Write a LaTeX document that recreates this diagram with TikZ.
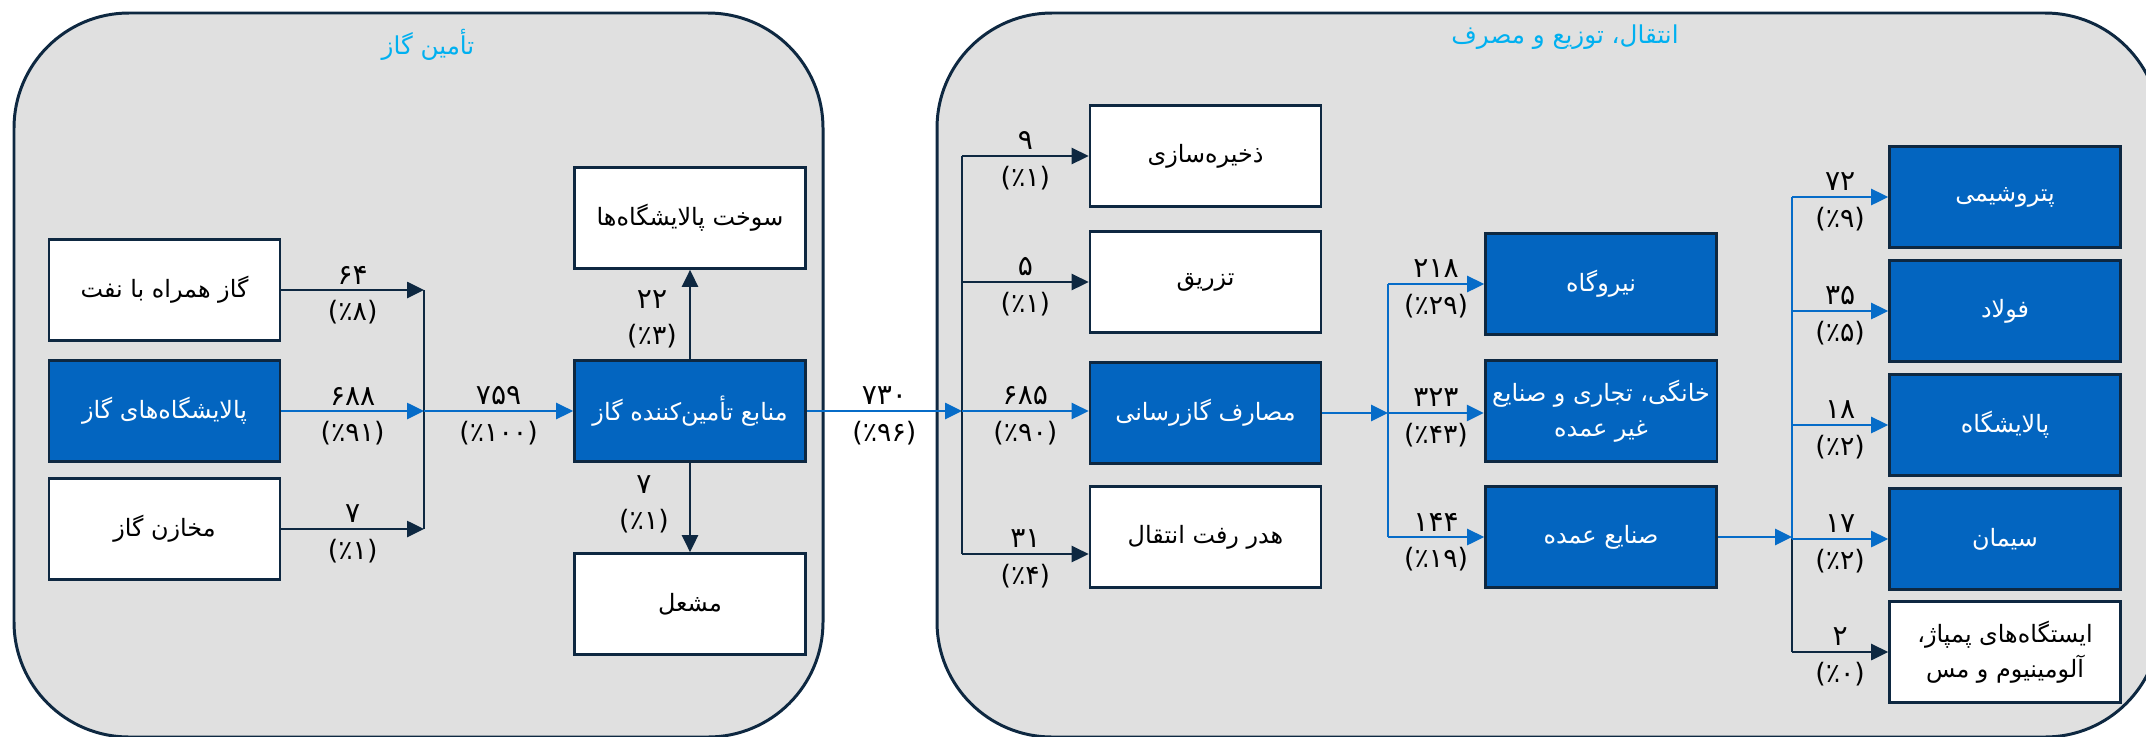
\documentclass[tikz,border=0pt]{standalone}
\usepackage{fontspec}
\newfontfamily\fafont[Script=Arabic]{DejaVu Sans}
\TeXXeTstate=1
\usepackage{tikz}
\usetikzlibrary{arrows.meta}

\definecolor{navy}{RGB}{14,40,65}
\definecolor{panelgray}{RGB}{224,224,224}
\definecolor{boxblue}{RGB}{3,101,192}
\definecolor{lineblue}{RGB}{6,108,200}
\definecolor{headcyan}{RGB}{0,176,240}

\newcommand{\rtext}[1]{\beginR#1\endR}

\begin{document}
\begin{tikzpicture}[
  font=\fafont\fontsize{6.8}{10}\selectfont,
  panel/.style    ={draw=navy, fill=panelgray, line width=0.85pt, rounded corners=11.5mm},
  heading/.style  ={text=headcyan, inner sep=0pt, font=\fafont\fontsize{7}{10}\selectfont},
  cell/.style     ={draw=navy, line width=0.75pt, align=center, inner sep=2pt,
                    minimum width=23.1mm, minimum height=10.1mm},
  whitecell/.style={cell, fill=white, text=black},
  bluecell/.style ={cell, fill=boxblue, text=white},
  amt/.style      ={midway, yshift=1.5mm, inner sep=0pt, font=\fafont\fontsize{8}{10}\selectfont},
  pct/.style      ={midway, yshift=-2.2mm, inner sep=0pt, font=\fafont\fontsize{7.6}{10}\selectfont},
  ar/.style       ={-{Triangle[length=1.7mm, width=1.6mm]}, line width=0.75pt, draw=navy},
  arb/.style      ={ar, draw=lineblue},
  rail/.style     ={line width=0.5pt, draw=navy},
  railb/.style    ={line width=0.5pt, draw=lineblue},
]
\useasboundingbox (0,0) rectangle (21.46,-7.36);
\clip (0,0) rectangle (21.46,-7.36);

% ---------------- the two grey bands ---------------------------------------
\draw[panel] (0.14,-0.13) rectangle (8.23,-7.37);
\draw[panel] (9.37,-0.13) rectangle (21.60,-7.37);

% ---------------- supply side ----------------------------------------------
\node[heading] (supplyhd) at (4.28,-0.45) {\rtext{تأمین گاز}};

\node[whitecell] (assoc)  at (1.645,-2.90) {\rtext{گاز همراه با نفت}};
\node[bluecell]  (refin)  at (1.645,-4.11) {\rtext{پالایشگاه‌های گاز}};
\node[whitecell] (reserv) at (1.645,-5.29) {\rtext{مخازن گاز}};
\node[bluecell]  (source) at (6.90,-4.11)  {\rtext{منابع تأمین‌کننده گاز}};
\node[whitecell] (fuel)   at (6.90,-2.18)  {\rtext{سوخت پالایشگاه‌ها}};
\node[whitecell] (flare)  at (6.90,-6.04)  {\rtext{مشعل}};

\coordinate (ja) at (4.24,-2.90);
\coordinate (jb) at (4.24,-4.11);
\coordinate (jc) at (4.24,-5.29);

\draw[rail] (ja) -- (jc);
\draw[ar]  (assoc)  -- node[amt]{۶۴}  node[pct]{(٪۸)}  (ja);
\draw[arb] (refin)  -- node[amt]{۶۸۸} node[pct]{(٪۹۱)} (jb);
\draw[ar]  (reserv) -- node[amt]{۷}   node[pct]{(٪۱)}  (jc);
\draw[arb] (jb) -- node[amt]{۷۵۹} node[pct]{(٪۱۰۰)} (source);
\draw[ar]  (source) -- node[amt, xshift=-3.8mm]{۲۲} node[pct, xshift=-3.8mm]{(٪۳)} (fuel);
\draw[ar]  (source) -- node[amt, xshift=-4.6mm, yshift=0.8mm]{۷}
                       node[pct, xshift=-4.6mm, yshift=0.8mm]{(٪۱)} (flare);

% ---------------- transmission, distribution and use ----------------------
\node[heading] (usehd) at (15.65,-0.37) {\rtext{انتقال، توزیع و مصرف}};

\node[whitecell] (store)  at (12.055,-1.56) {\rtext{ذخیره‌سازی}};
\node[whitecell] (inject) at (12.055,-2.82) {\rtext{تزریق}};
\node[bluecell]  (grid)   at (12.055,-4.13) {\rtext{مصارف گازرسانی}};
\node[whitecell] (loss)   at (12.055,-5.37) {\rtext{هدر رفت انتقال}};

\coordinate (ka) at (9.62,-1.56);
\coordinate (kb) at (9.62,-2.82);
\coordinate (kc) at (9.62,-4.11);
\coordinate (kd) at (9.62,-5.54);

\draw[arb] (source) -- node[amt]{۷۳۰} node[pct]{(٪۹۶)} (kc);
\draw[rail] (ka) -- (kd);
\draw[ar]  (ka) -- node[amt]{۹}   node[pct]{(٪۱)}  (store);
\draw[ar]  (kb) -- node[amt]{۵}   node[pct]{(٪۱)}  (inject);
\draw[arb] (kc) -- node[amt]{۶۸۵} node[pct]{(٪۹۰)} (kc -| grid.west);
\draw[ar]  (kd) -- node[amt]{۳۱}  node[pct]{(٪۴)}  (kd -| loss.west);

% second split: city gate consumers
\node[bluecell] (power) at (16.01,-2.84) {\rtext{نیروگاه}};
\node[bluecell] (homes) at (16.01,-4.11) {\rtext{خانگی، تجاری و صنایع}\\\rtext{غیر عمده}};
\node[bluecell] (heavy) at (16.01,-5.37) {\rtext{صنایع عمده}};

\coordinate (la) at (13.88,-2.84);
\coordinate (lb) at (13.88,-4.13);
\coordinate (lc) at (13.88,-5.37);

\draw[arb] (grid) -- (lb);
\draw[railb] (la) -- (lc);
\draw[arb] (la) -- node[amt]{۲۱۸} node[pct]{(٪۲۹)} (power);
\draw[arb] (lb) -- node[amt]{۳۲۳} node[pct]{(٪۴۳)} (lb -| homes.west);
\draw[arb] (lc) -- node[amt]{۱۴۴} node[pct]{(٪۱۹)} (heavy);

% third split: large industries
\node[bluecell]  (petro)  at (20.05,-1.97) {\rtext{پتروشیمی}};
\node[bluecell]  (steel)  at (20.05,-3.11) {\rtext{فولاد}};
\node[bluecell]  (refy)   at (20.05,-4.25) {\rtext{پالایشگاه}};
\node[bluecell]  (cement) at (20.05,-5.39) {\rtext{سیمان}};
\node[whitecell] (misc)   at (20.05,-6.52) {\rtext{ایستگاه‌های پمپاژ،}\\\rtext{آلومینیوم و مس}};

\coordinate (ma) at (17.92,-1.97);
\coordinate (mb) at (17.92,-3.11);
\coordinate (mc) at (17.92,-4.25);
\coordinate (md) at (17.92,-5.39);
\coordinate (me) at (17.92,-6.52);

\draw[arb] (heavy) -- (heavy.east -| md);
\draw[railb] (ma) -- (md);
\draw[rail]  (md) -- (me);
\draw[arb] (ma) -- node[amt]{۷۲} node[pct]{(٪۹)} (petro);
\draw[arb] (mb) -- node[amt]{۳۵} node[pct]{(٪۵)} (steel);
\draw[arb] (mc) -- node[amt]{۱۸} node[pct]{(٪۲)} (refy);
\draw[arb] (md) -- node[amt]{۱۷} node[pct]{(٪۲)} (cement);
\draw[ar]  (me) -- node[amt]{۲}  node[pct]{(٪۰)} (misc);

\end{tikzpicture}
\end{document}
